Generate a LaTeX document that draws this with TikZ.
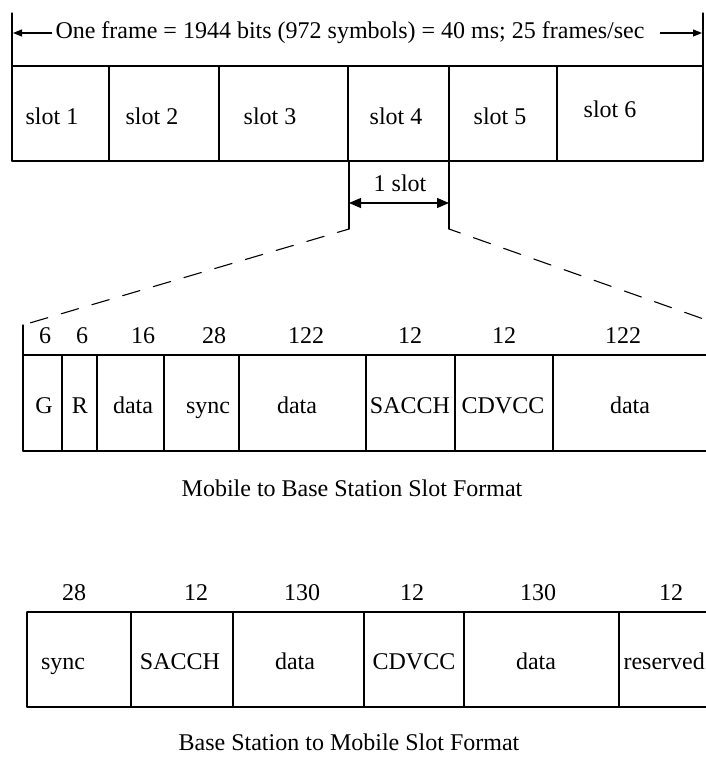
\documentclass[tikz,border=0pt]{standalone}
\usepackage{fontspec}
\setmainfont{Liberation Serif}
\usetikzlibrary{arrows.meta}
\tikzset{
  fld/.style={inner sep=0pt, text height=17pt, text depth=5pt},
  fan/.style={dash pattern=on 18pt off 14pt, dash phase=6pt},
}
\begin{document}
\begin{tikzpicture}[x=1pt,y=-1pt,font=\fontsize{24}{28}\selectfont,line width=1.1pt,line join=round,line cap=round,>={Triangle[length=9pt,width=7pt]}]
			\useasboundingbox (0,0) rectangle (706,760);
			\clip (0,0) rectangle (706,760);
			% one frame, six slots
			\draw (12,13)--(12,161) (703,13)--(703,161);
			\draw (12,66)--(703,66) (12,161)--(703,161);
			\foreach \x in {109,219,348,449,557} \draw (\x,66)--(\x,161);
			\node (frame) at (350,33) {One frame = 1944 bits (972 symbols) = 40 ms; 25 frames/sec};
			\coordinate (fl) at (13,33);
			\coordinate (fr) at (702,33);
			\draw[->] (frame.west)--(fl);
			\draw[->] ([xshift=12pt]frame.east)--(fr);
			\foreach \x/\y/\t [count=\i] in {52/118/slot 1,152/118/slot 2,270/118/slot 3,396/118/slot 4,500/118/slot 5,610/111/slot 6}
				\node[fld] (s\i) at (\x,\y) {\t};
			% one slot is zoomed
			\coordinate (kl) at (349,229);
			\coordinate (kr) at (449,229);
			\coordinate (wl) at (349,203);
			\coordinate (wr) at (449,203);
			\draw (349,161)--(kl) (449,161)--(kr);
			\draw[{Triangle[length=12pt,width=10pt]}-{Triangle[length=12pt,width=10pt]}] (wl)--(wr);
			\node[fld] (one) at (400,185) {1 slot};
			\coordinate (ml) at (23,325);
			\coordinate (mr) at (712,322);
			\draw[fan] (kl)--(ml);
			\draw[fan] (kr)--(mr);
			% mobile to base station
			\draw (ml)--(23,451);
			\draw (23,355)--(706,355) (23,451)--(706,451);
			\foreach \x in {62,97,164,239,366,455,553} \draw (\x,355)--(\x,451);
			\foreach \x/\n [count=\i] in {45/6,82/6,143/16,214/28,306/122,410/12,504/12,623/122}
				\node[fld] (mn\i) at (\x,337) {\n};
			\foreach \x/\t [count=\i] in {44/G,80/R,133/data,208/sync,297/data,410/SACCH,503/CDVCC,630/data}
				\node[fld] (mf\i) at (\x,407) {\t};
			\node[fld] (mcap) at (352,490) {Mobile to Base Station Slot Format};
			% base station to mobile
			\draw (27,612)--(27,707);
			\draw (27,612)--(706,612) (27,707)--(706,707);
			\foreach \x in {131,233,364,464,619} \draw (\x,612)--(\x,707);
			\foreach \x/\n [count=\i] in {74/28,196/12,302/130,412/12,538/130,671/12}
				\node[fld] (bn\i) at (\x,594) {\n};
			\foreach \x/\t [count=\i] in {63/sync,180/SACCH,295/data,414/CDVCC,536/data}
				\node[fld] (bf\i) at (\x,663) {\t};
			\node[fld,anchor=west] (bf6) at (623,663) {reserved};
			\node[fld] (bcap) at (349,744) {Base Station to Mobile Slot Format};
\end{tikzpicture}
\end{document}
